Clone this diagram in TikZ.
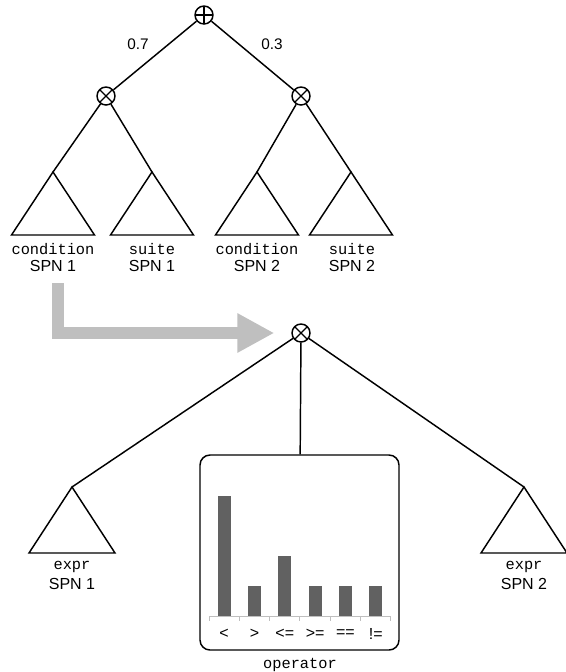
\documentclass[tikz,border=0pt]{standalone}
\usepackage{fontspec}
\setsansfont{Liberation Sans}
\setmonofont{Liberation Mono}
\usetikzlibrary{arrows.meta}

\begin{document}
\begin{tikzpicture}[%
        x=0.75pt, y=-0.75pt,
        line width=1.1pt,
        sumnode/.style={shape=circle, draw, inner sep=0pt, minimum size=13.5pt,
            path picture={\draw[line width=0.9pt]
                (path picture bounding box.north) -- (path picture bounding box.south)
                (path picture bounding box.west) -- (path picture bounding box.east);}},
        prodnode/.style={shape=circle, draw, inner sep=0pt, minimum size=13.5pt,
            path picture={\draw[line width=0.9pt]
                (path picture bounding box.north west) -- (path picture bounding box.south east)
                (path picture bounding box.north east) -- (path picture bounding box.south west);}},
        varname/.style={font=\ttfamily\fontsize{11.5}{13}\selectfont, inner sep=1pt},
        spnname/.style={font=\sffamily\fontsize{12}{14}\selectfont, inner sep=1pt},
        weight/.style={font=\sffamily\fontsize{11.5}{13}\selectfont, inner sep=1pt},
        barfill/.style={fill=black!62},
        bigarrow/.style={draw=black!25, line width=9pt,
            -{Triangle[length=27.75pt, width=27.75pt]}, shorten >=12.75pt}
    ]
        \useasboundingbox (0,0) rectangle (566,672);

        \node [sumnode] (sum) at (204,15) {};
        \node [prodnode] (prodl) at (106,96) {};
        \node [prodnode] (prodr) at (301,96) {};
        \node [prodnode] (prodb) at (301,333) {};

        \node [weight] (w1) at (138,44) {0.7};
        \node [weight] (w2) at (272,44) {0.3};

        \coordinate (cond1) at (53,172);
        \coordinate (suite1) at (152,172);
        \coordinate (cond2) at (257,172);
        \coordinate (suite2) at (351,172);
        \coordinate (expr1) at (72,487);
        \coordinate (expr2) at (524,487);

        \foreach \t in {cond1,suite1,cond2,suite2}
            \draw (\t) -- ++(-41.5,63) -- ++(83,0) -- cycle;
        \foreach \t in {expr1,expr2}
            \draw (\t) -- ++(-43,66) -- ++(86,0) -- cycle;

        \foreach \t/\x/\v/\s in
            {cond1/53/condition/1,suite1/152/suite/1,cond2/257/condition/2,suite2/352/suite/2}
        {
            \node [varname] (\t-var) at (\x,249) {\v};
            \node [spnname] (\t-spn) at (\x,266) {SPN \s};
        }
        \foreach \t/\x/\s in {expr1/72/1,expr2/524/2}
        {
            \node [varname] (\t-var) at (\x,567) {expr};
            \node [spnname] (\t-spn) at (\x,584) {SPN \s};
        }

        \draw (sum) -- (prodl);
        \draw (sum) -- (prodr);
        \draw (prodl) -- (cond1);
        \draw (prodl) -- (suite1);
        \draw (prodr) -- (cond2);
        \draw (prodr) -- (suite2);

        \coordinate (arrstart) at (58,283);
        \draw [bigarrow] (arrstart) |- (prodb);

        \node [draw, rounded corners=7.5pt, inner sep=0pt,
            minimum width=149.25pt, minimum height=146.25pt] (opbox) at (299.5,552.5) {};
        \draw (prodb) -- (expr1);
        \draw (prodb) -- (expr2);
        \draw (prodb) -- (opbox);

        \draw [black!25, line width=0.75pt] (209,616) -- (391,616);
        \foreach \k in {0,...,6}
            \draw [black!25, line width=0.75pt] (209+\k*30.33,616) -- ++(0,5);
        \foreach \i/\h/\op in {1/120/<,2/30/>,3/60/{<=},4/30/{>=},5/30/{==},6/30/{!=}}
        {
            \pgfmathsetmacro\x{209+(\i-0.5)*30.33}
            \fill [barfill] (\x-6.5,616) rectangle (\x+6.5,616-\h);
            \node [spnname] (op\i) at (\x,634) {\op};
        }
        \node [varname] (opname) at (300,665) {operator};
    \end{tikzpicture}
\end{document}
